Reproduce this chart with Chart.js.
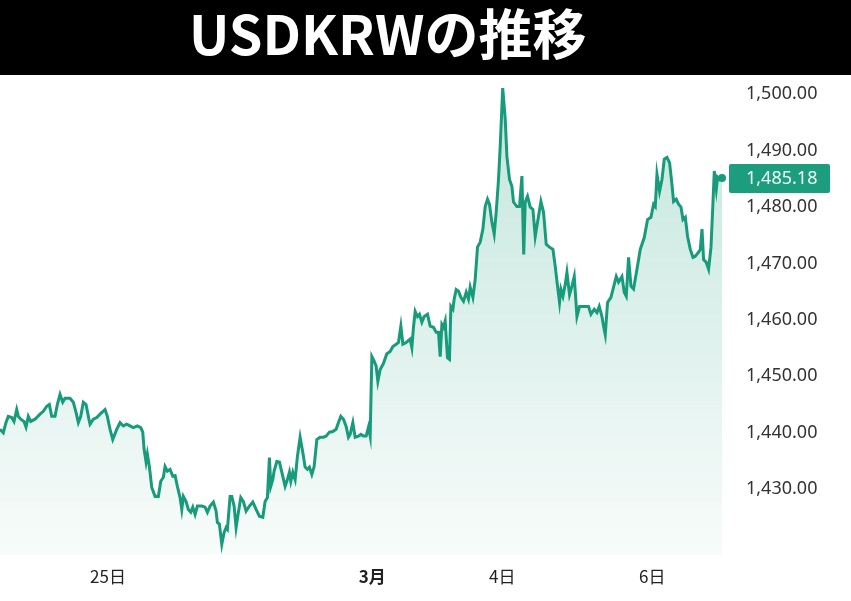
<!DOCTYPE html>
<html>
<head>
<meta charset="utf-8">
<script src="https://cdn.jsdelivr.net/npm/chart.js@4.4.1/dist/chart.umd.min.js"></script>
<style>
  html, body { margin: 0; padding: 0; background: #fff; }
  #wrap { position: relative; width: 851px; height: 601px; overflow: hidden; }
  #title {
    position: absolute; left: 0; top: 0; width: 851px; height: 75px;
    background: #000; color: #fff;
    font-family: "Noto Sans CJK JP", sans-serif; font-weight: 700;
    font-size: 54px; line-height: 63px;
  }
  #title span { position: absolute; left: 189px; top: 0; }
  #chartBox { position: absolute; left: 0; top: 75px; width: 851px; height: 526px; }
</style>
</head>
<body>
<div id="wrap">
  <div id="title"><span>USDKRWの推移</span></div>
  <div id="chartBox"><canvas id="usdkrw" width="851" height="526"></canvas></div>
</div>
<script>
// time index (evenly scaled) and USD/KRW rate
const timeIdx = [
  0, 3.3, 6, 8.3, 11.7, 14, 16.7, 18.3, 20.7, 24, 26, 28.3, 30.7, 35, 40, 43.3, 46.7, 49.3, 51.7, 55,
  57.3, 60, 62.7, 65, 70, 73.3, 76, 78.3, 80.7, 83.3, 86, 88.3, 90, 93.3, 96.7, 100, 105, 107.3, 110, 112.7,
  116.7, 120, 123.3, 126.7, 130, 133.3, 137.3, 140.7, 142.7, 144, 146, 147.3, 149.3, 151.7, 155, 158.3, 160.7, 163.3, 165, 167.3,
  170, 172.7, 175, 177.3, 180, 181.7, 183.3, 186, 188.3, 190.7, 192.7, 195, 197.3, 201.7, 205, 207.3, 210, 213.3, 216, 217.3,
  219.3, 221.7, 224, 226, 227.3, 230, 231.7, 234, 236, 238.3, 240.7, 243.3, 246, 249.3, 252.7, 256, 259.3, 262.7, 265, 267.3,
  269.3, 270.7, 272.7, 274, 276.7, 279.3, 281.7, 285, 287.3, 289.3, 290.7, 292.7, 295, 297.3, 300, 302.7, 305, 307.3, 309.3, 311.7,
  314, 316.7, 320, 323.3, 326, 329.3, 332.7, 336, 338.3, 340.7, 343.3, 346, 348.3, 350, 352.7, 355, 358.3, 360.7, 363.3, 366,
  368.3, 370, 371.7, 374, 376, 377.7, 380, 383.3, 386.7, 390, 392.7, 396, 398.3, 400.7, 402.7, 406, 410, 411.7, 413.3, 415,
  417.3, 419.3, 421.7, 424, 427.3, 430, 433.3, 436, 438.3, 440, 441.7, 443.3, 445, 447.3, 449.3, 450.7, 452.7, 454, 456, 458.3,
  460.7, 463.3, 466, 468.3, 470, 472.7, 475, 477.3, 480, 482.7, 485, 487.3, 489.3, 491.7, 494, 496, 498.3, 500, 502.5, 505,
  506.7, 509.3, 511.7, 513.3, 516.7, 519.3, 521.7, 523.5, 525, 527.3, 530, 532.7, 535, 537.3, 540.7, 543.3, 546, 549.3, 552.7, 555,
  557.3, 559.3, 560.7, 562.7, 565, 566.7, 569.3, 571.7, 574, 576.7, 579.3, 583.3, 588.3, 590.7, 594, 596.7, 599, 601.7, 603.3, 605,
  607.3, 610.7, 613.3, 616, 618.3, 621.7, 624, 626, 628.3, 630.7, 633.3, 636.7, 640, 644, 647.3, 650.7, 653.3, 655, 656.7, 659.3,
  661.7, 664, 666.7, 669.3, 671.7, 673.3, 676, 678.3, 680.7, 682.7, 685, 687.3, 690, 692.7, 695, 698.3, 700, 701.7, 703.3, 706,
  708.3, 710.7, 712.7, 714, 716, 717.3, 719.3, 721.7
];
const rates = [
  1440.6, 1440.0, 1441.8, 1442.9, 1442.7, 1442.0, 1444.1, 1442.9, 1442.4, 1442.0, 1441.0, 1442.9, 1442.0, 1442.4, 1443.3, 1443.8, 1444.7, 1445.0, 1442.9, 1442.9,
  1445.0, 1446.8, 1445.4, 1446.1, 1446.1, 1445.4, 1443.6, 1441.8, 1442.9, 1445.4, 1445.0, 1442.9, 1441.5, 1442.4, 1442.7, 1443.3, 1444.1, 1442.9, 1440.6, 1438.8,
  1440.6, 1441.8, 1441.2, 1441.5, 1441.2, 1440.9, 1441.2, 1440.9, 1440.1, 1437.1, 1434.8, 1436.2, 1434.0, 1430.3, 1428.7, 1428.7, 1431.4, 1432.1, 1434.0, 1433.2,
  1433.5, 1432.3, 1432.4, 1430.5, 1428.5, 1426.4, 1428.7, 1427.8, 1426.4, 1425.9, 1426.8, 1425.5, 1427.0, 1427.0, 1426.8, 1425.9, 1427.0, 1427.7, 1426.1, 1424.1,
  1423.8, 1420.2, 1422.3, 1423.2, 1422.9, 1428.7, 1428.7, 1427.0, 1423.2, 1425.9, 1428.5, 1427.8, 1426.1, 1427.0, 1427.7, 1426.4, 1425.2, 1425.0, 1427.8, 1428.5,
  1435.6, 1430.5, 1431.7, 1433.2, 1434.9, 1434.8, 1433.0, 1430.5, 1431.7, 1433.0, 1431.4, 1433.0, 1431.7, 1435.8, 1439.2, 1436.5, 1433.9, 1433.5, 1433.9, 1432.6,
  1434.0, 1438.8, 1439.2, 1439.2, 1439.4, 1440.1, 1440.2, 1440.6, 1441.8, 1442.9, 1442.4, 1441.1, 1439.2, 1439.7, 1441.8, 1439.2, 1439.4, 1439.7, 1439.4, 1439.4,
  1441.0, 1439.4, 1453.5, 1452.7, 1451.8, 1449.1, 1451.2, 1452.3, 1454.0, 1454.4, 1455.3, 1455.7, 1456.0, 1458.9, 1455.7, 1456.0, 1456.6, 1455.1, 1458.7, 1461.5,
  1460.6, 1461.0, 1459.6, 1460.6, 1461.0, 1458.9, 1458.7, 1457.8, 1457.8, 1453.5, 1459.2, 1458.7, 1459.8, 1453.3, 1453.0, 1462.4, 1461.9, 1463.7, 1465.4, 1465.1,
  1464.0, 1463.3, 1464.9, 1463.7, 1465.8, 1464.0, 1467.2, 1472.9, 1473.8, 1476.1, 1480.1, 1481.4, 1480.5, 1477.3, 1475.2, 1479.1, 1484.9, 1490.8, 1501.1, 1495.6,
  1489.0, 1484.9, 1483.7, 1480.9, 1480.1, 1480.1, 1485.5, 1471.6, 1480.9, 1481.9, 1480.0, 1479.6, 1474.8, 1477.3, 1481.0, 1479.1, 1473.4, 1472.9, 1472.5, 1469.5,
  1466.0, 1463.1, 1465.4, 1464.2, 1466.3, 1468.4, 1464.5, 1466.0, 1467.7, 1460.6, 1462.4, 1462.4, 1462.4, 1461.0, 1461.9, 1461.3, 1462.4, 1460.6, 1458.9, 1457.4,
  1463.1, 1464.0, 1465.8, 1467.7, 1466.7, 1467.7, 1464.9, 1464.2, 1471.1, 1466.0, 1465.5, 1469.0, 1472.5, 1474.6, 1477.8, 1478.2, 1480.5, 1480.1, 1485.8, 1482.8,
  1484.9, 1488.5, 1488.8, 1487.9, 1484.0, 1481.0, 1481.4, 1480.5, 1480.0, 1477.8, 1478.2, 1474.8, 1472.5, 1471.1, 1471.3, 1472.0, 1472.5, 1476.1, 1470.7, 1470.2,
  1469.0, 1472.9, 1480.9, 1486.4, 1483.2, 1485.3, 1484.9, 1485.18
];

const xTickTimes = [108, 372, 502, 652];
const xTickLabels = ['25日', '3月', '4日', '6日'];
const yTickValues = [1430, 1440, 1450, 1460, 1470, 1480, 1490, 1500];

const lineColor = '#179b7b';
const lastIdx = rates.length - 1;
const fmt = v => v.toLocaleString('en-US', { minimumFractionDigits: 2, maximumFractionDigits: 2 });

// box with the last price on the right axis
const lastPriceBox = {
  id: 'lastPriceBox',
  afterDraw(chart) {
    const c = chart.ctx;
    const y = chart.scales.y.getPixelForValue(rates[lastIdx]);
    c.save();
    c.fillStyle = '#1c9e7e';
    c.beginPath();
    c.roundRect(729, y - 14, 101, 29, 2);
    c.fill();
    c.fillStyle = '#eefcf6';
    c.font = '18px "Noto Sans", sans-serif';
    c.textBaseline = 'middle';
    c.textAlign = 'left';
    c.fillText(fmt(rates[lastIdx]), 746, y + 1);
    c.restore();
  }
};

const ctx = document.getElementById('usdkrw').getContext('2d');
new Chart(ctx, {
  type: 'line',
  data: {
    datasets: [{
      data: timeIdx.map((t, i) => ({ x: t, y: rates[i] })),
      borderColor: lineColor,
      borderWidth: 3,
      tension: 0,
      fill: 'start',
      backgroundColor: (context) => {
        const area = context.chart.chartArea;
        if (!area) return 'rgba(23,155,123,0.12)';
        const g = context.chart.ctx.createLinearGradient(0, area.top, 0, area.bottom);
        g.addColorStop(0, 'rgba(23,155,123,0.26)');
        g.addColorStop(1, 'rgba(23,155,123,0.03)');
        return g;
      },
      pointRadius: (c) => c.dataIndex === lastIdx ? 4 : 0,
      pointBackgroundColor: lineColor,
      pointBorderWidth: 0,
      clip: false
    }]
  },
  options: {
    responsive: false,
    animation: false,
    layout: { padding: 0, autoPadding: false },
    plugins: {
      legend: { display: false },
      tooltip: { enabled: false }
    },
    scales: {
      x: {
        type: 'linear',
        min: 0,
        max: timeIdx[timeIdx.length - 1],
        grid: { display: false, drawTicks: false },
        border: { display: false },
        afterBuildTicks: (axis) => { axis.ticks = xTickTimes.map(v => ({ value: v })); },
        afterFit: (axis) => { axis.height = 46; },
        ticks: {
          padding: 11,
          maxRotation: 0,
          color: '#222',
          font: (c) => ({
            family: '"Noto Sans CJK JP", sans-serif',
            size: 17,
            weight: c.tick && c.tick.value === 372 ? 'bold' : 'normal'
          }),
          callback: (v) => xTickLabels[xTickTimes.indexOf(v)]
        }
      },
      y: {
        position: 'right',
        min: 1418.32,
        max: 1501.83,
        grid: { display: false, drawTicks: true, tickLength: 24 },
        border: { display: false },
        afterBuildTicks: (axis) => { axis.ticks = yTickValues.map(v => ({ value: v })); },
        afterFit: (axis) => { axis.width = 129; },
        ticks: {
          padding: 0,
          color: '#333',
          font: { family: '"Noto Sans", sans-serif', size: 18, lineHeight: 1 },
          callback: (v) => fmt(v)
        }
      }
    }
  },
  plugins: [lastPriceBox]
});
</script>
</body>
</html>
